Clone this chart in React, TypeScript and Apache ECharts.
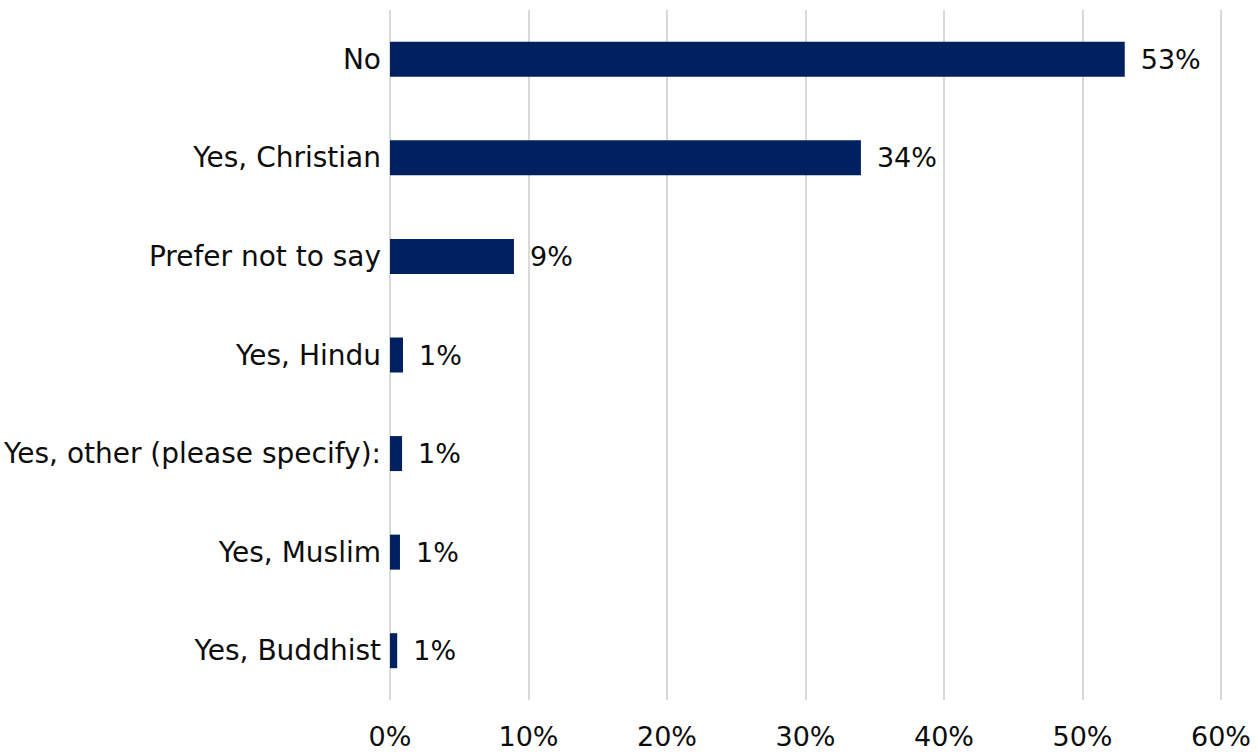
import React, { useEffect, useRef } from "react";
import * as echarts from "echarts";

const categories = [
  "No",
  "Yes, Christian",
  "Prefer not to say",
  "Yes, Hindu",
  "Yes, other (please specify):",
  "Yes, Muslim",
  "Yes, Buddhist",
];
const values = [53.05, 34.0, 8.95, 0.94, 0.87, 0.72, 0.52];
const xTicks = { min: 0, max: 60, interval: 10 };

const FONT = "'DejaVu Sans', sans-serif";

export default function App() {
  const ref = useRef<HTMLDivElement>(null);
  useEffect(() => {
    if (!ref.current) return;
    const chart = echarts.init(ref.current, null, { renderer: "svg" });
    chart.setOption({
      animation: false,
      grid: { left: 390, right: 37, top: 10, bottom: 54 },
      xAxis: {
        type: "value",
        min: xTicks.min,
        max: xTicks.max,
        interval: xTicks.interval,
        axisLine: { show: false },
        axisTick: { show: false },
        splitLine: { lineStyle: { color: "#d9d9d9", width: 2 } },
        axisLabel: {
          formatter: "{value}%",
          fontFamily: FONT,
          fontSize: 27,
          color: "#0d0d0d",
          margin: 23,
        },
      },
      yAxis: {
        type: "category",
        data: categories,
        inverse: true,
        axisLine: { show: false },
        axisTick: { show: false },
        axisLabel: {
          fontFamily: FONT,
          fontSize: 28,
          color: "#0d0d0d",
          margin: 9,
        },
      },
      series: [
        {
          type: "bar",
          data: values,
          barWidth: 35,
          itemStyle: { color: "#002060" },
          label: {
            show: true,
            position: "right",
            distance: 16,
            fontFamily: FONT,
            fontSize: 27,
            color: "#0d0d0d",
            formatter: (p: any) => Math.round(p.value) + "%",
          },
        },
      ],
    });
    return () => chart.dispose();
  }, []);
  return (
    <div
      ref={ref}
      style={{ position: "fixed", left: 0, top: 0, width: 1258, height: 754, background: "#fff" }}
    />
  );
}
